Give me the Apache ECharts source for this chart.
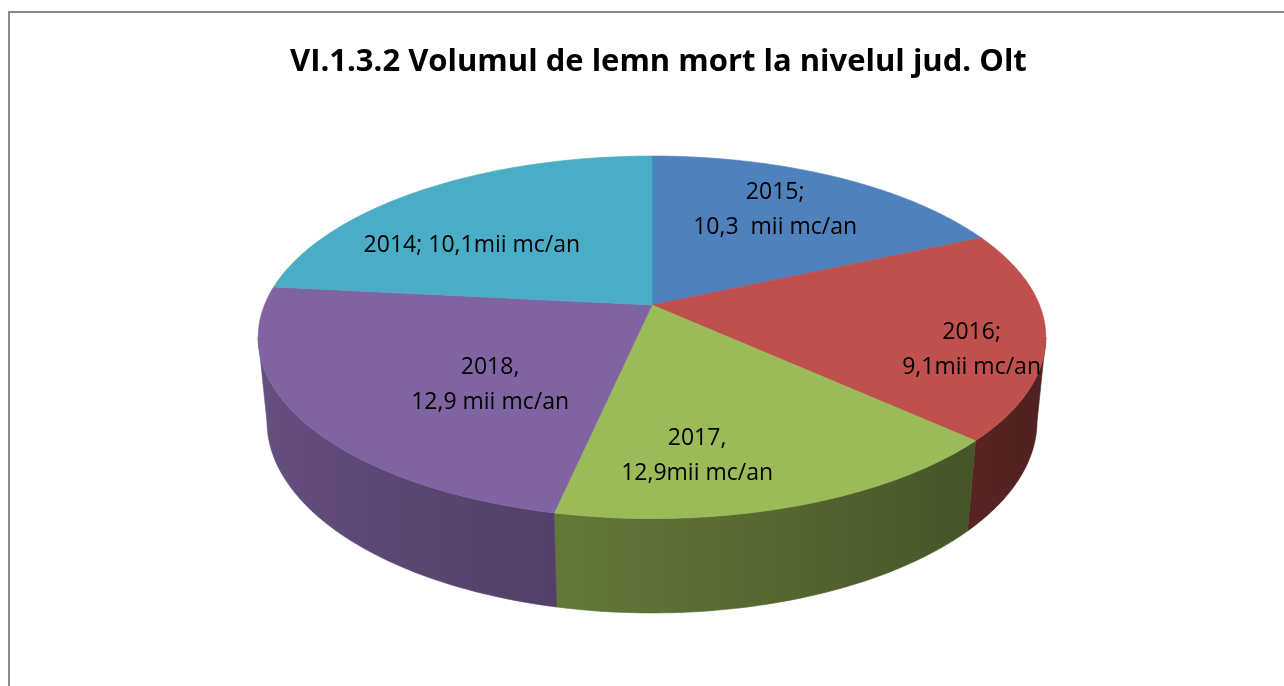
<!DOCTYPE html>
<html>
<head>
<meta charset="utf-8">
<title>Volumul de lemn mort - jud. Olt</title>
<script src="https://cdn.jsdelivr.net/npm/echarts@6/dist/echarts.min.js"></script>
<style>
html, body { margin: 0; padding: 0; background: #fff; }
#chart { width: 1284px; height: 686px; }
</style>
</head>
<body>
<div id="chart"></div>
<script>
// valorile feliilor, in ordinea din grafic (de sus, in sensul acelor de ceasornic)
var sliceValues = [10.1, 10.3, 9.1, 12.9, 12.9];
// etichetele scrise pe grafic (text manual, ca in original)
var sliceLabels = [
    '2015;\n10,3  mii mc/an',
    '2016;\n9,1mii mc/an',
    '2017,\n12,9mii mc/an',
    '2018,\n12,9 mii mc/an',
    '2014; 10,1mii mc/an'
];
var sliceColors = ['#4F81BD', '#C0504D', '#9BBB59', '#8064A2', '#4BACC6'];
var titleText = 'VI.1.3.2 Volumul de lemn mort la nivelul jud. Olt';

// camera pentru efectul 3D (perspectiva)
var view = { cx: 652, cy: 305, f: 1940, d: 5.006, sin: 0.453, cos: 0.8915, h: 0.2443 };
// pozitia etichetelor: [unghi in grade, raza relativa]
var labelSpots = [[30.4, 0.695], [107.3, 0.826], [172.3, 0.753], [222.5, 0.572], [306.3, 0.614]];

function project(theta, r, y) {// theta = unghi de la spate, in sensul acelor
    var X = r * Math.sin(theta), Z = r * Math.cos(theta);
    var yp = y * view.cos + Z * view.sin;
    var zp = -y * view.sin + Z * view.cos;
    var k = view.f / (view.d + zp);
    return [view.cx + X * k, view.cy - yp * k];
}

function shade(hex, t) {
    var n = parseInt(hex.slice(1), 16);
    var r = Math.round(((n >> 16) & 255) * t);
    var g = Math.round(((n >> 8) & 255) * t);
    var b = Math.round((n & 255) * t);
    return 'rgb(' + r + ',' + g + ',' + b + ')';
}

function wallFactor(theta) {// lumina vine din stanga
    return 0.6 - 0.2 * Math.sin(theta);
}

var total = sliceValues.reduce(function (a, b) { return a + b; }, 0);
var silR = Math.acos(-view.cos / view.d);// marginea vizibila dreapta
var silL = 2 * Math.PI - silR;// marginea vizibila stanga

function renderSlice(params, api) {
    var i = params.dataIndex;
    var before = 0;
    for (var j = 0; j < i; j++) before += sliceValues[j];
    var a0 = before / total * 2 * Math.PI;
    var a1 = (before + api.value(0)) / total * 2 * Math.PI;
    var base = sliceColors[i];
    var children = [];

    // fata de sus
    var n = Math.max(2, Math.ceil((a1 - a0) / (Math.PI / 180)));
    var top = [project(0, 0, 0)];
    for (var k = 0; k <= n; k++) {
        top.push(project(a0 + (a1 - a0) * k / n, 1, 0));
    }
    children.push({
        type: 'polygon', z2: 2,
        shape: { points: top },
        style: { fill: base, stroke: base, lineWidth: 0.6 }
    });

    // peretele lateral (doar partea din fata)
    var w0 = Math.max(a0, silR), w1 = Math.min(a1, silL);
    if (w1 > w0) {
        var m = Math.max(2, Math.ceil((w1 - w0) / (Math.PI / 180)));
        var up = [], down = [];
        for (var q = 0; q <= m; q++) {
            var t = w0 + (w1 - w0) * q / m;
            up.push(project(t, 1, 0));
            down.push(project(t, 1, -view.h));
        }
        var x0 = up[0][0], x1 = up[m][0];
        var stops = [];
        for (var s = 0; s <= 8; s++) {
            var ts = w0 + (w1 - w0) * s / 8;
            var px = project(ts, 1, 0)[0];
            stops.push({ offset: Math.min(1, Math.max(0, (px - x0) / (x1 - x0))), color: shade(base, wallFactor(ts)) });
        }
        var grad = new echarts.graphic.LinearGradient(x0, 0, x1, 0, stops, true);
        children.push({
            type: 'polygon', z2: 1,
            shape: { points: up.concat(down.reverse()) },
            style: { fill: grad, stroke: grad, lineWidth: 0.6 }
        });
    }

    // eticheta
    var spot = labelSpots[i];
    var lp = project(spot[0] * Math.PI / 180, spot[1], 0);
    children.push({
        type: 'text', z2: 3,
        style: {
            text: sliceLabels[i],
            x: lp[0], y: lp[1],
            align: 'center', verticalAlign: 'middle',
            fill: '#000',
            fontSize: 23, fontFamily: 'Open Sans',
            lineHeight: 35
        }
    });

    return { type: 'group', children: children };
}

var chart = echarts.init(document.getElementById('chart'));
chart.setOption({
    backgroundColor: '#fff',
    animation: false,
    title: {
        text: titleText,
        left: 285,
        top: 42,
        textStyle: { fontSize: 31, fontWeight: 'bold', color: '#000', fontFamily: 'Open Sans' }
    },
    graphic: [{
        type: 'rect', silent: true,
        shape: { x: 9, y: 12, width: 1300, height: 700 },
        style: { fill: 'none', stroke: '#898989', lineWidth: 2 }
    }],
    series: [{
        type: 'custom',
        coordinateSystem: 'none',
        renderItem: renderSlice,
        data: sliceValues.map(function (v) { return [v]; })
    }]
});
window.addEventListener('resize', function () { chart.resize(); });
</script>
</body>
</html>
